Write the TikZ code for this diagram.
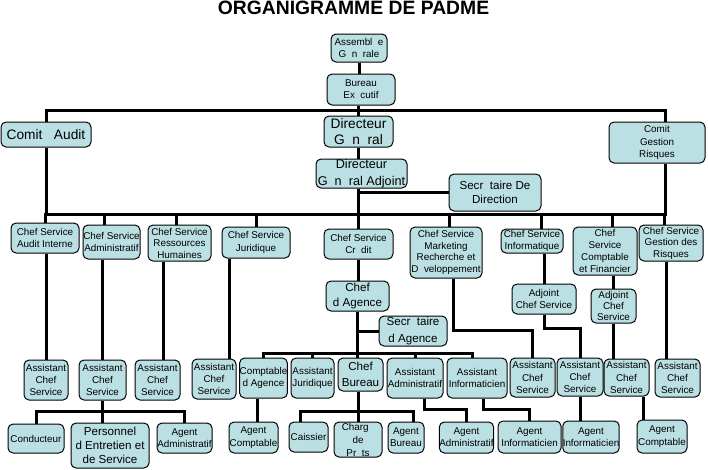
\documentclass[tikz,border=0pt]{standalone}
\usepackage{fontspec}
\setmainfont{Liberation Sans}
\usetikzlibrary{calc}
\newcommand{\miss}{\phantom{e}}
\tikzset{every picture/.style={line width=0.75pt}}
\tikzset{
  orgbox/.style={draw, fill={rgb, 255:red, 187; green, 224; blue, 227 }, rounded corners=3.75pt, inner sep=0pt, align=center, font=\fontsize{7.4}{9.2}\selectfont},
  midtext/.style={font=\fontsize{8.7}{10.7}\selectfont},
  bigtext/.style={font=\fontsize{10.3}{12.5}\selectfont},
  link/.style={line width=2.25pt},
}
\begin{document}
\begin{tikzpicture}[x=0.75pt,y=0.75pt,yscale=-1,xscale=1]
\useasboundingbox (0,0) rectangle (708,469);

% Text Node
\draw (353.5,8) node [font=\fontsize{14.5}{16}\bfseries] (title) {ORGANIGRAMME DE PADME};

%Rounded Rect: direction
\draw (359,48) node [orgbox, minimum width=42pt, minimum height=21pt] (asg) {Assembl\miss e\\G\miss n\miss rale};
\draw (361,89.5) node [orgbox, minimum width=51pt, minimum height=23.25pt] (bureau) {Bureau\\Ex\miss cutif};
\draw (358.5,131.5) node [orgbox, bigtext, minimum width=51.75pt, minimum height=23.25pt] (dg) {Directeur\\G\miss n\miss ral};
\draw (361.5,173.5) node [orgbox, font=\fontsize{9.5}{12.5}\selectfont, minimum width=68.25pt, minimum height=21.75pt] (dga) {Directeur\\G\miss n\miss ral Adjoint};
\draw (46,134.5) node [orgbox, bigtext, minimum width=67.5pt, minimum height=18.75pt] (caudit) {Comit\miss\ Audit};
\draw (657,142.5) node [orgbox, font=\fontsize{7.4}{9.6}\selectfont, minimum width=72pt, minimum height=30.75pt] (cgr) {Comit\\Gestion\\Risques};
\draw (495,192.5) node [orgbox, font=\fontsize{8.7}{10.5}\selectfont, minimum width=69pt, minimum height=27.75pt] (sdd) {Secr\miss taire De\\Direction};

%Rounded Rect: chefs de service
\draw (45,238) node [orgbox, minimum width=51pt, minimum height=22.5pt] (csai) {Chef Service\\Audit Interne};
\draw (111.5,242) node [orgbox, minimum width=42.75pt, minimum height=25.5pt] (csadm) {Chef Service\\Administratif};
\draw (179.5,243) node [orgbox, font=\fontsize{7.4}{8.6}\selectfont, minimum width=47.25pt, minimum height=27pt] (csrh) {Chef Service\\Ressources\\Humaines};
\draw (256,242.5) node [orgbox, minimum width=51pt, minimum height=23.25pt] (csjur) {Chef Service\\Juridique};
\draw (358.5,244) node [orgbox, minimum width=51.75pt, minimum height=22.5pt] (cscr) {Chef Service\\Cr\miss dit};
\draw (446,252.5) node [orgbox, font=\fontsize{7.4}{8.7}\selectfont, minimum width=54pt, minimum height=38.25pt] (csmkt) {Chef Service\\Marketing\\Recherche et\\D\miss veloppement};
\draw (532,241) node [orgbox, minimum width=46.5pt, minimum height=18pt] (csinf) {Chef Service\\Informatique};
\draw (605,251) node [orgbox, font=\fontsize{7.4}{8.8}\selectfont, minimum width=48pt, minimum height=36pt] (cscf) {Chef\\Service\\Comptable\\et Financier};
\draw (671,243) node [orgbox, font=\fontsize{7.4}{8.6}\selectfont, minimum width=48pt, minimum height=27pt] (csgr) {Chef Service\\Gestion des\\Risques};

%Rounded Rect: adjoints et agence
\draw (544,299) node [orgbox, minimum width=48pt, minimum height=22.5pt] (acsinf) {Adjoint\\Chef Service};
\draw (613.5,306) node [orgbox, font=\fontsize{7.4}{8.2}\selectfont, minimum width=33.75pt, minimum height=25.5pt] (acscf) {Adjoint\\Chef\\Service};
\draw (357.5,296) node [orgbox, midtext, minimum width=47.25pt, minimum height=22.5pt] (cag) {Chef\\d Agence};
\draw (413,331) node [orgbox, font=\fontsize{8.7}{12.5}\selectfont, minimum width=51pt, minimum height=22.5pt] (sag) {Secr\miss taire\\d Agence};

%Rounded Rect: assistants
\draw (46,380) node [orgbox, minimum width=33pt, minimum height=30pt] (a1) {Assistant\\Chef\\Service};
\draw (102.5,380) node [orgbox, minimum width=35.25pt, minimum height=30pt] (a2) {Assistant\\Chef\\Service};
\draw (157.5,380) node [orgbox, minimum width=33.75pt, minimum height=30pt] (a3) {Assistant\\Chef\\Service};
\draw (214,379) node [orgbox, minimum width=33pt, minimum height=30pt] (a4) {Assistant\\Chef\\Service};
\draw (263.5,378) node [orgbox, minimum width=35.25pt, minimum height=30pt] (cpag) {Comptable\\d Agence};
\draw (312.5,378) node [orgbox, minimum width=32.25pt, minimum height=30pt] (ajur) {Assistant\\Juridique};
\draw (360.5,374.5) node [orgbox, font=\fontsize{8.7}{12.5}\selectfont, minimum width=33.75pt, minimum height=24.75pt] (cbur) {Chef\\Bureau};
\draw (415,378) node [orgbox, minimum width=42pt, minimum height=30pt] (aadm) {Assistant\\Administratif};
\draw (477,378) node [orgbox, minimum width=45pt, minimum height=30pt] (ainf) {Assistant\\Informaticien};
\draw (532.5,377.5) node [orgbox, minimum width=33.75pt, minimum height=29.25pt] (a5) {Assistant\\Chef\\Service};
\draw (580,377) node [orgbox, minimum width=34.5pt, minimum height=28.5pt] (a6) {Assistant\\Chef\\Service};
\draw (626.5,377.5) node [orgbox, minimum width=33.75pt, minimum height=27.75pt] (a7) {Assistant\\Chef\\Service};
\draw (677.5,378) node [orgbox, minimum width=33.75pt, minimum height=28.5pt] (a8) {Assistant\\Chef\\Service};

%Rounded Rect: agents
\draw (36,438.5) node [orgbox, minimum width=42pt, minimum height=21.75pt] (cond) {Conducteur};
\draw (110,445.5) node [orgbox, midtext, minimum width=58.5pt, minimum height=33.75pt] (pers) {Personnel\\d Entretien et\\de Service};
\draw (184.5,438) node [orgbox, minimum width=41.25pt, minimum height=22.5pt] (agadm1) {Agent\\Administratif};
\draw (253.5,437.5) node [orgbox, minimum width=36.75pt, minimum height=23.25pt] (agcpt1) {Agent\\Comptable};
\draw (308.5,437) node [orgbox, minimum width=29.25pt, minimum height=22.5pt] (cais) {Caissier};
\draw (358,439.5) node [orgbox, font=\fontsize{7.4}{9.75}\selectfont, minimum width=36pt, minimum height=26.25pt] (cdp) {Charg\miss\\de\\Pr\miss ts};
\draw (406,437.5) node [orgbox, minimum width=27pt, minimum height=23.25pt] (agbur) {Agent\\Bureau};
\draw (466.5,437.5) node [orgbox, minimum width=39.75pt, minimum height=23.25pt] (agadm2) {Agent\\Administratif};
\draw (529.5,437) node [orgbox, minimum width=47.25pt, minimum height=24pt] (aginf1) {Agent\\Informaticien};
\draw (591,437) node [orgbox, minimum width=42pt, minimum height=24pt] (aginf2) {Agent\\Informaticien};
\draw (662,436.5) node [orgbox, minimum width=37.5pt, minimum height=24.75pt] (agcpt2) {Agent\\Comptable};

\coordinate (bus1) at (358,110);
\coordinate (bus2) at (358,214);
\coordinate (bus3) at (358,353);
\coordinate (bus4) at (103,411);
\coordinate (bus5) at (358,411);

%Straight Lines: direction
\draw [link] (asg.south) -- (asg.south |- bureau.north);
\draw [link] (dg.north |- bureau.south) -- (dg.north);
\draw [link] (dg.south) -- (dg.south |- dga.north);
\draw [link] (dga.south -| cscr.north) -- (cscr.north);
\draw [link] (sdd.west) -- (sdd.west -| cscr.north);
\draw [link] (caudit.north) |- (bus1) -| ($(cgr.north)+(8,0)$);
\draw [link] (caudit.south) |- (bus2) -| ($(cgr.south)+(8,0)$);

%Straight Lines: chefs de service
\draw [link] (csai.north) |- (bus2);
\draw [link] ($(csadm.north)+(-7,0)$) |- (bus2);
\draw [link] ($(csrh.north)+(-3,0)$) |- (bus2);
\draw [link] (csjur.north) |- (bus2);
\draw [link] ($(csmkt.north)+(3,0)$) |- (bus2);
\draw [link] ($(csinf.north)+(9,0)$) |- (bus2);
\draw [link] ($(cscf.north)+(7,0)$) |- (bus2);
\draw [link] ($(csgr.north)+(-7,0)$) |- (bus2);

%Straight Lines: vers assistants
\draw [link] (csai.south -| a1.north) -- (a1.north);
\draw [link] (a2.north |- csadm.south) -- (a2.north);
\draw [link] ($(a3.north |- csrh.south)+(5.5,0)$) -- ($(a3.north)+(5.5,0)$);
\draw [link] ($(a4.north |- csjur.south)+(15,0)$) -- ($(a4.north)+(15,0)$);
\draw [link] (cscr.south) -- (cscr.south |- cag.north);
\draw [link] (cag.south) -- (cag.south |- cbur.north);
\draw [link] (sag.west) -- (sag.west -| cag.south);
\draw [link] (cpag.north) |- (bus3) -| ($(ainf.north)+(-5,0)$);
\draw [link] (ajur.north) |- (bus3);
\draw [link] (aadm.north) |- (bus3);
\draw [link] ($(csmkt.south)+(7,0)$) -- ++(0,52) -| (a5.north);
\draw [link] (csinf.south -| acsinf.north) -- (acsinf.north);
\draw [link] (acsinf.south) -- ++(0,14) -| (a6.north);
\draw [link] (acscf.north |- cscf.south) -- (acscf.north);
\draw [link] (acscf.south) -- (acscf.south |- a7.north);
\draw [link] ($(csgr.south)+(-5,0)$) -- ($(csgr.south |- a8.north)+(-5,0)$);

%Straight Lines: vers agents
\draw [link] (a2.south) -- (a2.south |- pers.north);
\draw [link] (cond.north) |- (bus4) -| (agadm1.north);
\draw [link] ($(cpag.south)+(-6,0)$) -- ($(cpag.south |- agcpt1.north)+(-6,0)$);
\draw [link] (cdp.north |- cbur.south) -- (cdp.north);
\draw [link] ($(cais.north)+(-8,0)$) |- (bus5) -| ($(agbur.north)+(7,0)$);
\draw [link] ($(aadm.south)+(9,0)$) -- ++(0,11) -| (agadm2.north);
\draw [link] ($(ainf.south)+(6,0)$) -- ++(0,11) -| (aginf1.north);
\draw [link] (a6.south) -- (a6.south |- aginf2.north);
\draw [link] ($(a7.south)+(16.5,0)$) -- ($(a7.south |- agcpt2.north)+(16.5,0)$);

\end{tikzpicture}
\end{document}
